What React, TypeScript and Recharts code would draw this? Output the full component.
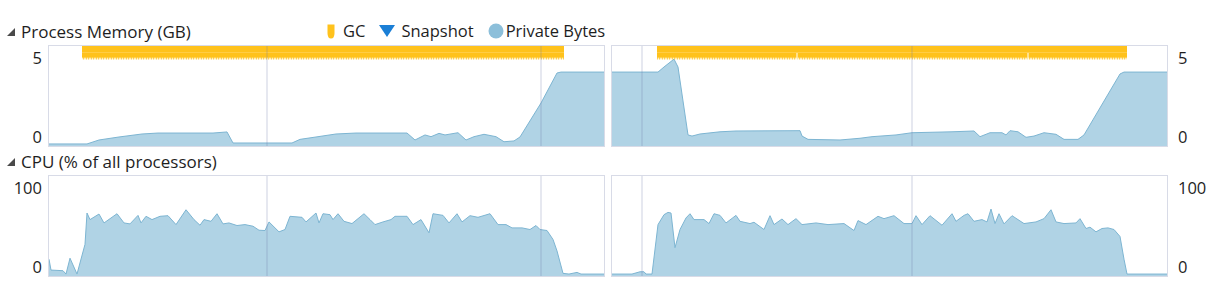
import React from "react";
import { AreaChart, Area, XAxis, YAxis, ReferenceLine, ReferenceArea } from "recharts";

// time in ticks across each panel (0..555)
const memLeft: [number, number][] = [
  [0, 0.13], [38, 0.13], [50, 0.38], [70, 0.57], [93, 0.76], [109, 0.82], [164, 0.82],
  [178, 0.89], [184, 0.19], [243, 0.19], [251, 0.42], [267, 0.57], [287, 0.76], [307, 0.82],
  [358, 0.82], [366, 0.38], [376, 0.7], [382, 0.59], [390, 0.8], [396, 0.7], [409, 0.84],
  [417, 0.38], [425, 0.59], [435, 0.74], [447, 0.59], [455, 0.27], [465, 0.32], [471, 0.57],
  [492, 2.72], [508, 4.62], [512, 4.68], [555, 4.68],
];
const memRight: [number, number][] = [
  [0, 4.68], [46, 4.68], [52, 5.0], [62, 5.5], [66, 5.0], [76, 0.7], [80, 0.63], [88, 0.76],
  [108, 0.9], [124, 0.95], [188, 0.97], [190, 0.63], [196, 0.42], [228, 0.38], [248, 0.49],
  [260, 0.59], [284, 0.7], [300, 0.84], [340, 0.9], [362, 0.95], [368, 0.59], [378, 0.84],
  [390, 0.84], [394, 0.7], [398, 0.97], [406, 0.9], [414, 0.55], [422, 0.63], [432, 0.84],
  [444, 0.74], [452, 0.42], [466, 0.42], [472, 0.7], [508, 4.56], [512, 4.68], [555, 4.68],
];
const cpuLeft: [number, number][] = [
  [0, 21.5], [2, 7.6], [14, 6.8], [17, 2.5], [21, 22.8], [28, 2.5], [36, 40.5], [38, 80.6],
  [41, 72.2], [50, 79.3], [55, 67.9], [68, 79.7], [75, 67.9], [81, 66.7], [89, 77.6], [92, 67.9],
  [97, 76.4], [103, 72.2], [111, 76.4], [119, 77.2], [127, 65.8], [137, 84.8], [145, 72.2],
  [151, 65.0], [155, 72.2], [162, 70.0], [168, 79.7], [174, 66.7], [180, 67.9], [188, 64.6],
  [196, 65.8], [204, 63.7], [210, 58.6], [216, 58.2], [220, 69.2], [230, 56.5], [236, 59.5],
  [241, 76.4], [253, 75.1], [257, 69.2], [267, 80.6], [270, 67.9], [274, 79.7], [281, 78.5],
  [284, 72.2], [289, 79.7], [295, 70.0], [303, 67.1], [315, 79.7], [321, 72.2], [326, 65.8],
  [334, 69.2], [342, 72.2], [346, 76.4], [358, 76.4], [364, 65.8], [372, 72.2], [380, 55.3],
  [384, 79.7], [394, 77.6], [400, 67.9], [408, 79.7], [413, 69.2], [421, 77.2], [429, 75.1],
  [441, 79.7], [449, 65.8], [457, 65.8], [463, 61.6], [473, 61.6], [481, 59.5], [487, 64.6],
  [491, 59.5], [498, 58.2], [504, 46.8], [508, 32.1], [514, 3.4], [520, 2.5], [528, 4.6],
  [532, 2.5], [555, 2.5],
];
const cpuRight: [number, number][] = [
  [0, 2.5], [20, 2.5], [28, 5.4], [32, 5.4], [34, 2.5], [40, 2.5], [46, 65.8], [52, 78.5],
  [56, 81.4], [59, 80.6], [63, 36.3], [68, 59.5], [74, 74.3], [78, 79.7], [82, 72.2], [92, 72.2],
  [97, 67.1], [102, 79.7], [108, 77.6], [114, 67.9], [124, 77.6], [128, 70.0], [138, 67.1],
  [142, 68.8], [152, 59.5], [158, 77.2], [162, 65.8], [170, 73.0], [176, 65.8], [184, 73.4],
  [190, 65.8], [204, 67.9], [216, 65.8], [232, 67.1], [242, 58.2], [246, 70.9], [254, 65.8],
  [266, 76.4], [272, 73.4], [282, 77.2], [292, 67.1], [300, 67.1], [304, 77.2], [310, 65.8],
  [318, 77.2], [330, 65.0], [340, 79.7], [344, 70.0], [352, 77.6], [356, 79.7], [362, 70.0],
  [370, 72.2], [375, 69.2], [379, 85.7], [383, 67.1], [387, 79.7], [392, 66.7], [400, 77.2],
  [412, 67.1], [424, 69.2], [432, 73.4], [439, 84.8], [444, 69.2], [452, 67.1], [464, 67.9],
  [468, 73.4], [474, 60.8], [478, 62.5], [484, 56.5], [490, 60.8], [496, 61.6], [502, 59.5],
  [508, 50.6], [512, 21.5], [515, 2.5], [555, 2.5],
];

// GC activity ranges (start, end) in the same time units
const gcLeft: [number, number][] = [[33, 515]];
const gcRight: [number, number][] = [[45, 184.5], [185.5, 415.5], [416.5, 515]];

// vertical time markers
const gridLeft = [218, 492];
const gridRight = [30, 300];

const memTicks = [0, 5];
const cpuTicks = [0, 100];
const MEM_MAX = 6.33;
const CPU_MAX = 128;
const GC_MID = 5.9;
const GC_LOW = 5.63;
const GC_TEETH = 5.45;
const SPAN = 555;

const FONT = "'Segoe UI', 'Open Sans', sans-serif";
const TEXT = "#1e1e1e";
const FILL = "#b0d3e5";
const STROKE = "#7db5d2";
const GC = "#ffc21c";
const FRAME = "#d8dbe7";

const PLOT_W = 555;
const PLOT_H = 100;

interface PanelProps {
  id: string;
  data: [number, number][];
  max: number;
  ticks: number[];
  side: "left" | "right";
  grid: number[];
  gc?: [number, number][];
  x: number; // plot left
  y: number; // plot top
}

function makeTick(side: "left" | "right") {
  return (p: any) => (
    <text
      x={p.x}
      y={p.y - 10}
      textAnchor={side === "left" ? "end" : "start"}
      dominantBaseline="central"
      fontSize={16.5}
      fontFamily={FONT}
      fill={TEXT}
    >
      {p.payload.value}
    </text>
  );
}

function Panel({ id, data, max, ticks, side, grid, gc, x, y }: PanelProps) {
  const rows = data.map(([t, v]) => ({ t, v }));
  const axisW = side === "left" ? 49 : 62;
  const margin =
    side === "left"
      ? { top: 6, bottom: 4, left: 0, right: 6 }
      : { top: 6, bottom: 4, left: 6, right: 0 };
  const chartLeft = side === "left" ? x - axisW : x - 6;
  const teethTop = margin.top + ((max - GC_LOW) / max) * PLOT_H;
  const teethH = ((GC_LOW - GC_TEETH) / max) * PLOT_H;
  const gcStart = gc ? Math.min(...gc.map((r) => r[0])) : 0;
  const gcEnd = gc ? Math.max(...gc.map((r) => r[1])) : 0;
  return (
    <>
      <div
        style={{
          position: "absolute",
          left: chartLeft,
          top: y - 6,
        }}
      >
        <AreaChart width={PLOT_W + axisW + 6} height={PLOT_H + 10} data={rows} margin={margin}>
          <defs>
            <pattern id={`teeth-${id}`} x={0} y={teethTop} width={2.5} height={teethH} patternUnits="userSpaceOnUse">
              <path d={`M0,0 L2.5,0 L1.25,${teethH} Z`} fill={GC} />
            </pattern>
          </defs>
          <XAxis dataKey="t" type="number" domain={[0, SPAN]} hide />
          <YAxis
            orientation={side}
            width={axisW}
            domain={[0, max]}
            ticks={ticks}
            interval={0}
            axisLine={false}
            tickLine={false}
            tickMargin={side === "left" ? 1 : 5}
            tick={makeTick(side)}
            allowDataOverflow
          />
          <Area
            type="linear"
            dataKey="v"
            stroke={STROKE}
            strokeWidth={1}
            fill={FILL}
            fillOpacity={1}
            isAnimationActive={false}
            dot={false}
            activeDot={false}
          />
          {grid.map((g) => (
            <ReferenceLine key={g} x={g} stroke="rgba(110,120,165,0.35)" strokeWidth={1} />
          ))}
          {gc && (
            <ReferenceArea x1={gcStart} x2={gcEnd} y1={GC_MID} y2={max} fill={GC} fillOpacity={1} stroke="none" />
          )}
          {gc?.map(([a, b]) => (
            <ReferenceArea key={`gc${a}`} x1={a} x2={b} y1={GC_LOW} y2={GC_MID} fill={GC} fillOpacity={1} stroke="none" />
          ))}
          {gc?.map(([a, b]) => (
            <ReferenceArea
              key={`gt${a}`}
              x1={a}
              x2={b}
              y1={GC_TEETH}
              y2={GC_LOW}
              fill={`url(#teeth-${id})`}
              fillOpacity={1}
              stroke="none"
            />
          ))}
        </AreaChart>
      </div>
      <div
        style={{
          position: "absolute",
          left: x - 1,
          top: y - 1,
          width: PLOT_W,
          height: PLOT_H,
          border: `1px solid ${FRAME}`,
          pointerEvents: "none",
        }}
      />
    </>
  );
}

function Caret({ x, y }: { x: number; y: number }) {
  return (
    <svg style={{ position: "absolute", left: x, top: y }} width={10} height={10}>
      <polygon points="9,1 9,9 1,9" fill="#4a4a4a" />
    </svg>
  );
}

function Title({ x, y, text }: { x: number; y: number; text: string }) {
  return (
    <>
      <Caret x={x - 15} y={y - 5} />
      <div
        style={{
          position: "absolute",
          left: x,
          top: y - 12,
          lineHeight: "24px",
          fontSize: 17,
          fontFamily: FONT,
          color: TEXT,
          whiteSpace: "nowrap",
        }}
      >
        {text}
      </div>
    </>
  );
}

function Legend() {
  const label = { fontSize: 16.5, fontFamily: FONT, color: TEXT, lineHeight: "22px", whiteSpace: "nowrap" as const };
  return (
    <div style={{ position: "absolute", left: 327, top: 20, display: "flex", alignItems: "center" }}>
      <svg width={8} height={15} style={{ marginRight: 8 }}>
        <path d="M0.5,0.5 H7.5 V9 Q7.5,14.5 4,14.5 Q0.5,14.5 0.5,9 Z" fill={GC} />
      </svg>
      <span style={label}>GC</span>
      <svg width={16} height={14} style={{ marginLeft: 14, marginRight: 6 }}>
        <polygon points="0,1 16,1 8,13" fill="#1b7fd6" />
      </svg>
      <span style={label}>Snapshot</span>
      <svg width={16} height={16} style={{ marginLeft: 14, marginRight: 2 }}>
        <circle cx={8} cy={8} r={7.5} fill="#8cbfda" />
      </svg>
      <span style={label}>Private Bytes</span>
    </div>
  );
}

export default function App() {
  return (
    <div
      style={{
        position: "absolute",
        left: 0,
        top: 0,
        width: 1229,
        height: 292,
        background: "#fff",
        overflow: "hidden",
      }}
    >
      <Title x={21} y={32} text="Process Memory (GB)" />
      <Legend />
      <Panel id="ml" data={memLeft} max={MEM_MAX} ticks={memTicks} side="left" grid={gridLeft} gc={gcLeft} x={49} y={46} />
      <Panel id="mr" data={memRight} max={MEM_MAX} ticks={memTicks} side="right" grid={gridRight} gc={gcRight} x={612} y={46} />
      <Title x={21} y={162} text="CPU (% of all processors)" />
      <Panel id="cl" data={cpuLeft} max={CPU_MAX} ticks={cpuTicks} side="left" grid={gridLeft} x={49} y={176} />
      <Panel id="cr" data={cpuRight} max={CPU_MAX} ticks={cpuTicks} side="right" grid={gridRight} x={612} y={176} />
    </div>
  );
}
